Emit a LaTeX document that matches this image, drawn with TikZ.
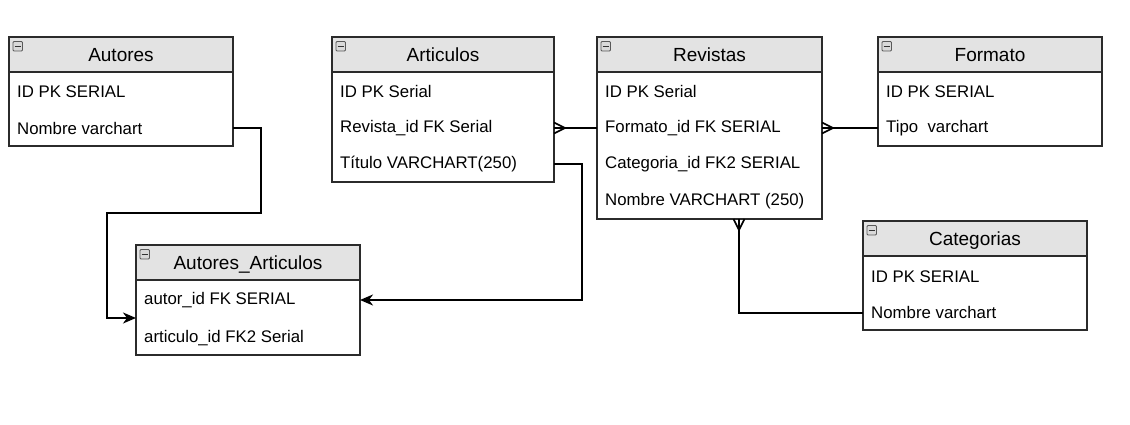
\documentclass[tikz,border=0pt]{standalone}
\usepackage{fontspec}
\setmainfont{Liberation Sans}
\usetikzlibrary{calc,arrows.meta}
\definecolor{hdrfill}{HTML}{E3E3E3}
\definecolor{bord}{HTML}{2B2B2B}
\tikzset{
  tbl/.style={draw=bord, line width=1.4pt, fill=white, anchor=north west, inner sep=0pt, outer sep=0pt},
  hdr/.style={draw=bord, line width=1.4pt, fill=hdrfill, anchor=north west, inner sep=0pt, outer sep=0pt, minimum height=35pt, text depth=0pt, font=\fontsize{19}{20}\selectfont},
  row/.style={anchor=west, inner sep=0pt, font=\fontsize{16.8}{18}\selectfont},
  icon/.style={draw=gray!70!black, fill=gray!30, line width=0.9pt, rounded corners=1pt, anchor=north west, minimum width=9.5pt, minimum height=9.5pt, inner sep=0pt},
  conn/.style={line width=1.6pt, black},
  arr/.style={conn, -{Stealth[length=13pt, width=11pt, inset=4pt]}},
}
\newcommand{\ericon}[2]{\node[icon] (#1) at (#2) {}; \draw[line width=1.2pt, gray!40!black] ($(#1.center)+(-3pt,0)$) -- ($(#1.center)+(3pt,0)$);}
\begin{document}
\begin{tikzpicture}[x=1pt,y=-1pt]
\useasboundingbox (0,0) rectangle (1130,424);
% Autores
\node[tbl, minimum width=224pt, minimum height=109pt] (autores) at (9,37) {};
\node[hdr, minimum width=224pt] (autoresH) at (9,37) {Autores};
\ericon{autoresI}{12.5,41}
\node[row] (autores1) at (17,91.5) {ID PK SERIAL};
\node[row] (autores2) at (17,128.5) {Nombre varchart};
% Articulos
\node[tbl, minimum width=222pt, minimum height=145pt] (art) at (332,37) {};
\node[hdr, minimum width=222pt] (artH) at (332,37) {Articulos};
\ericon{artI}{335.5,41}
\node[row] (art1) at (340,91.5) {ID PK Serial};
\node[row] (art2) at (340,128.5) {Revista\_id FK Serial};
\node[row] (art3) at (340,164.5) {Título VARCHART(250)};
% Revistas
\node[tbl, minimum width=225pt, minimum height=182pt] (rev) at (597,37) {};
\node[hdr, minimum width=225pt] (revH) at (597,37) {Revistas};
\ericon{revI}{600.5,41}
\node[row] (rev1) at (605,91.5) {ID PK Serial};
\node[row] (rev2) at (605,128.5) {Formato\_id FK SERIAL};
\node[row] (rev3) at (605,164.5) {Categoria\_id FK2 SERIAL};
\node[row] (rev4) at (605,201.5) {Nombre VARCHART (250)};
% Formato
\node[tbl, minimum width=224pt, minimum height=109pt] (fmt) at (878,37) {};
\node[hdr, minimum width=224pt] (fmtH) at (878,37) {Formato};
\ericon{fmtI}{881.5,41}
\node[row] (fmt1) at (886,91.5) {ID PK SERIAL};
\node[row] (fmt2) at (886,128.5) {Tipo\ \ varchart};
% Categorias
\node[tbl, minimum width=224pt, minimum height=109pt] (cat) at (863,221) {};
\node[hdr, minimum width=224pt] (catH) at (863,221) {Categorias};
\ericon{catI}{866.5,225}
\node[row] (cat1) at (871,276.5) {ID PK SERIAL};
\node[row] (cat2) at (871,312.5) {Nombre varchart};
% Autores_Articulos
\node[tbl, minimum width=224pt, minimum height=110pt] (aa) at (136,245) {};
\node[hdr, minimum width=224pt] (aaH) at (136,245) {Autores\_Articulos};
\ericon{aaI}{139.5,249}
\node[row] (aa1) at (144,300.5) {autor\_id FK SERIAL};
\node[row] (aa2) at (144,338.5) {articulo\_id FK2 Serial};
% connectors
\coordinate (a1) at (autores.east |- 0,128);
\draw[arr] (a1) -- ++(28,0) |- (107,213) |- (aa.west |- 0,318);
\coordinate (t1) at (art.east |- 0,164);
\draw[arr] (t1) -- (582,164) |- (aa.east |- 0,300);
% Articulos - Revistas (many at Articulos)
\coordinate (r1) at (art.east |- 0,128);
\draw[conn] (r1) -- (rev.west |- 0,128);
\draw[conn] ($(r1)+(0,-5.5)$) -- ($(r1)+(11,0)$) -- ($(r1)+(0,5.5)$);
% Revistas - Formato (many at Revistas)
\coordinate (f1) at (rev.east |- 0,128);
\draw[conn] (f1) -- (fmt.west |- 0,128);
\draw[conn] ($(f1)+(0,-5.5)$) -- ($(f1)+(11,0)$) -- ($(f1)+(0,5.5)$);
% Revistas - Categorias (many at Revistas)
\coordinate (c1) at (rev.south -| 739,0);
\draw[conn] (c1) |- (cat.west |- 0,313);
\draw[conn] ($(c1)+(-5.5,0)$) -- ($(c1)+(0,11)$) -- ($(c1)+(5.5,0)$);
\end{tikzpicture}
\end{document}
